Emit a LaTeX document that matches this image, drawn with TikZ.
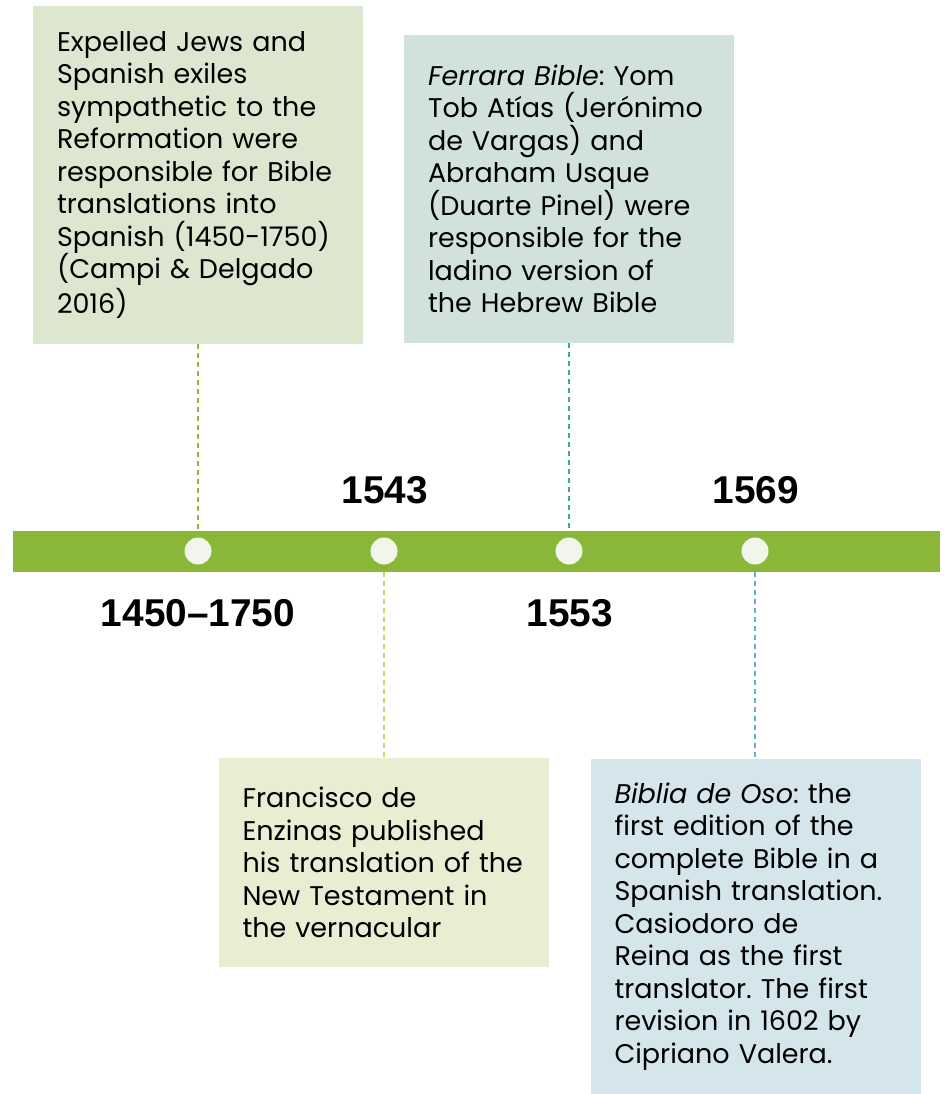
\documentclass[tikz,border=0pt]{standalone}
\usepackage{fontspec}
\setmainfont{Poppins}
\newfontfamily\yearfont{Liberation Sans}
\usetikzlibrary{positioning}
\definecolor{bargreen}{HTML}{8BB738}
\definecolor{dotfill}{HTML}{F2F5EA}
\definecolor{boxgreen}{HTML}{DDE7D0}
\definecolor{boxteal}{HTML}{D1E2DD}
\definecolor{boxlime}{HTML}{E9EED2}
\definecolor{boxblue}{HTML}{D4E6EC}
\definecolor{lnteal}{HTML}{3AAE8D}
\definecolor{lnlime}{HTML}{C5D86A}
\definecolor{lnblue}{HTML}{5AB6C9}
\frenchspacing

\begin{document}
\begin{tikzpicture}[
      x=0.5pt, y=-0.5pt,
      every node/.style={font=\fontsize{13.5}{16.25}\selectfont},
      evbox/.style={fill=#1, minimum width=165pt, text width=141pt,
                    inner xsep=12pt, inner ysep=0pt, align=left},
      dot/.style={circle, fill=dotfill, minimum size=13.5pt, inner sep=0pt},
      year/.style={font=\yearfont\bfseries\fontsize{19.4}{21}\selectfont},
      link/.style={dashed, dash pattern=on 2.5pt off 2pt, line width=0.65pt, draw=#1},
    ]
    \useasboundingbox (0,0) rectangle (946,1094);

    % timeline bar and dots
    \node[fill=bargreen, minimum width=463.5pt, minimum height=20.5pt, inner sep=0pt] (bar) at (476.5,551) {};
    \node[dot] (d1) at (198,551) {};
    \node[dot] (d2) at (384,551) {};
    \node[dot] (d3) at (569,551) {};
    \node[dot] (d4) at (755,551) {};

    % years
    \node[year] (y1) at (198,613) {1450\textendash 1750};
    \node[year] (y2) at (385,490) {1543};
    \node[year] (y3) at (570,613) {1553};
    \node[year] (y4) at (756,490) {1569};

    % event boxes
    \node[evbox=boxgreen, minimum height=169pt] (e1) at (198,175)
      {Expelled Jews and\\ Spanish exiles\\ sympathetic to the\\ Reformation were\\ responsible for Bible\\ translations into\\ Spanish (1450-1750)\\ (Campi \& Delgado\\ 2016)};
    \node[evbox=boxteal, minimum height=154pt] (e2) at (569,189)
      {\textit{Ferrara Bible}: Yom\\ Tob Atías (Jerónimo\\ de Vargas) and\\ Abraham Usque\\ (Duarte Pinel) were\\ responsible for the\\ ladino version of\\ the Hebrew Bible};
    \node[evbox=boxlime, minimum height=104.5pt] (e3) at (383.5,862.5)
      {Francisco de\\ Enzinas published\\ his translation of the\\ New Testament in\\ the vernacular};
    \node[evbox=boxblue, minimum height=167.5pt] (e4) at (755.5,926.5)
      {\textit{Biblia de Oso}: the\\ first edition of the\\ complete Bible in a\\ Spanish translation.\\ Casiodoro de\\ Reina as the first\\ translator. The first\\ revision in 1602 by\\ Cipriano Valera.};

    \draw[link=bargreen] (e1.south) -- (e1.south |- bar.north);
    \draw[link=lnteal]   (e2.south) -- (e2.south |- bar.north);
    \draw[link=lnlime]   (d2 |- bar.south) -- (e3.north -| d2);
    \draw[link=lnblue]   (d4 |- bar.south) -- (e4.north -| d4);
  \end{tikzpicture}
\end{document}
